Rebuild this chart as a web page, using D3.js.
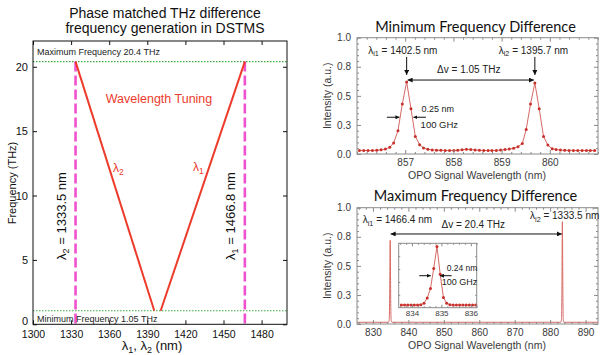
<!DOCTYPE html>
<html><head><meta charset="utf-8">
<script src="https://cdn.jsdelivr.net/npm/d3@7"></script>
<style>body{margin:0;background:#fff}svg{display:block}</style>
</head><body>
<svg id="c" width="609" height="355"></svg>
<script>
// ================= DATA =================
// Left panel: phase-matched THz DFG tuning in DSTMS
const leftXTicks = [1300, 1330, 1360, 1390, 1420, 1450, 1480];
const leftYTicks = [0, 5, 10, 15, 20];
const freqMax = 20.4;
const freqMin = 1.05;
const lambda2Edge = 1333.5;
const lambda1Edge = 1466.8;
const lambda2Line = [[1333.5, 20.4], [1395.5, 1.05]];
const lambda1Line = [[1400.5, 1.05], [1466.8, 20.4]];

// Shared spectrum y ticks
const specYTicks = [0, 0.25, 0.5, 0.75, 1.0];
const specYTickLabels = ["0.0", "0.3", "0.5", "0.8", "1.0"];

// Top-right: minimum frequency difference spectrum
const minXTicks = [857, 858, 859, 860];
const minWl = [856.05,856.14,856.23,856.32,856.41,856.50,856.59,856.68,856.76,856.85,856.94,857.03,
  857.12,857.21,857.30,857.38,857.47,857.56,857.65,857.74,857.83,857.92,858.01,858.09,858.18,858.27,
  858.36,858.45,858.54,858.63,858.72,858.80,858.89,858.98,859.07,859.16,859.25,859.34,859.43,859.51,
  859.60,859.69,859.78,859.87,859.96,860.05,860.13,860.22,860.31,860.40,860.49,860.58,860.67,860.76,
  860.84,860.93];
const minInt = [0.030,0.030,0.030,0.030,0.032,0.036,0.042,0.058,0.095,0.20,0.43,0.62,
  0.39,0.15,0.080,0.052,0.040,0.035,0.033,0.032,0.030,0.030,0.031,0.033,0.036,0.040,
  0.038,0.035,0.032,0.030,0.030,0.030,0.031,0.034,0.038,0.043,0.050,0.063,0.090,0.21,
  0.43,0.61,0.39,0.15,0.077,0.045,0.038,0.034,0.032,0.031,0.030,0.030,0.030,0.030,
  0.030,0.030];

// Bottom-right: maximum frequency difference spectrum
const maxXTicks = [830, 840, 850, 860, 870, 880, 890];
const maxWl = [825.5, 834.4, 834.6, 834.72, 834.87, 835.0, 835.12, 835.35,
               883.0, 883.2, 883.32, 883.45, 883.58, 883.7, 883.9, 893.5];
const maxInt = [0.015, 0.015, 0.04, 0.25, 0.72, 0.25, 0.04, 0.015,
                0.015, 0.04, 0.30, 0.88, 0.30, 0.04, 0.015, 0.015];

// Inset (zoom on the 834.9 nm peak)
const insetXTicks = [834, 835, 836];
const insetWl = [833.64,833.75,833.86,833.97,834.08,834.19,834.30,834.41,834.52,834.63,834.74,834.85,
  834.96,835.07,835.18,835.29,835.40,835.51,835.62,835.73,835.84,835.95,836.06,836.17];
const insetInt = [0.04,0.04,0.04,0.04,0.04,0.04,0.045,0.07,0.15,0.30,0.61,0.95,
  0.52,0.16,0.07,0.045,0.04,0.04,0.04,0.04,0.04,0.04,0.04,0.04];

// ================= DRAWING =================
const svg = d3.select("#c");
const FONT = "'Liberation Sans', Arial, Helvetica, sans-serif";
const TITLE_FONT = "Lato, 'Open Sans', sans-serif";

const defs = svg.append("defs");
function marker(id, color, size) {
  defs.append("marker").attr("id", id).attr("viewBox", "0 0 10 10")
    .attr("refX", 10).attr("refY", 5).attr("markerWidth", size).attr("markerHeight", size)
    .attr("orient", "auto-start-reverse")
    .append("path").attr("d", "M0,0 L10,5 L0,10 z").attr("fill", color);
}
marker("arr", "#111", 5);
marker("arrS", "#111", 4);

function framedAxes(g, x, y, o) {
  const [x0, x1] = x.range(), [y0, y1] = y.range();
  g.append("rect").attr("x", x0).attr("y", y1).attr("width", x1 - x0).attr("height", y0 - y1)
    .attr("fill", o.fill || "none").attr("stroke", o.color).attr("stroke-width", 1);
  const mk = (axisFn, scale, vals, size, fmt, tr, pad, fs) => {
    const a = axisFn(scale).tickValues(vals).tickSize(-size).tickPadding(pad || 0)
      .tickFormat(fmt || (() => ""));
    const ga = g.append("g").attr("transform", tr).call(a);
    ga.select(".domain").remove();
    ga.selectAll("line").attr("stroke", o.color);
    ga.selectAll("text").attr("fill", o.textColor)
      .style("font-family", FONT).style("font-size", (fs || o.fontSize) + "px");
    return ga;
  };
  const out = {};
  out.bottom = mk(d3.axisBottom, x, o.xTicks, o.major, o.xFmt, `translate(0,${y0})`, o.xPad, o.xFontSize);
  mk(d3.axisTop, x, o.xTicks, o.major, null, `translate(0,${y1})`);
  out.left = mk(d3.axisLeft, y, o.yTicks, o.major, o.yFmt, `translate(${x0},0)`, o.yPad);
  mk(d3.axisRight, y, o.yTicks, o.major, null, `translate(${x1},0)`);
  if (o.xMinor) {
    mk(d3.axisBottom, x, o.xMinor, o.minor, null, `translate(0,${y0})`);
    mk(d3.axisTop, x, o.xMinor, o.minor, null, `translate(0,${y1})`);
  }
  if (o.yMinor) {
    mk(d3.axisLeft, y, o.yMinor, o.minor, null, `translate(${x0},0)`);
    mk(d3.axisRight, y, o.yMinor, o.minor, null, `translate(${x1},0)`);
  }
  return out;
}
function minorTicks(scale, step, majors) {
  const [a, b] = scale.domain();
  return d3.range(Math.ceil(a / step) * step, b + 1e-9, step)
    .map(v => +v.toFixed(4))
    .filter(v => v >= a && v <= b && !majors.some(m => Math.abs(m - v) < 1e-6));
}

// ---------- LEFT PANEL ----------
{
  const g = svg.append("g");
  const x = d3.scaleLinear().domain([1300, 1500]).range([33, 287]);
  const y = d3.scaleLinear().domain([0, 22]).range([324.3, 41]);
  const RED = "#ec3b2b", MAG = "#f052cf", GREEN = "#3dab3d";

  g.append("text").attr("x", 165).attr("y", 18).attr("text-anchor", "middle")
    .style("font-family", FONT).style("font-size", "14px").attr("fill", "#111")
    .text("Phase matched THz difference");
  g.append("text").attr("x", 165).attr("y", 33).attr("text-anchor", "middle")
    .style("font-family", FONT).style("font-size", "14px").attr("fill", "#111")
    .text("frequency generation in DSTMS");

  // green dotted limits
  [freqMax, freqMin].forEach(f => {
    g.append("line").attr("x1", x(1300)).attr("x2", x(1500)).attr("y1", y(f)).attr("y2", y(f))
      .attr("stroke", GREEN).attr("stroke-width", 1.1).attr("stroke-dasharray", "1.5,1.5");
  });
  // magenta dashed edges
  [lambda2Edge, lambda1Edge].forEach(l => {
    g.append("line").attr("x1", x(l)).attr("x2", x(l)).attr("y1", y(freqMax)).attr("y2", y(0))
      .attr("stroke", MAG).attr("stroke-width", 2.6).attr("stroke-dasharray", "10,4");
  });
  // tuning lines
  const line = d3.line().x(d => x(d[0])).y(d => y(d[1]));
  [lambda2Line, lambda1Line].forEach(d => {
    g.append("path").attr("d", line(d)).attr("fill", "none").attr("stroke", RED).attr("stroke-width", 2);
  });

  const ax = framedAxes(g, x, y, {
    color: "#111", textColor: "#111", fontSize: 11, xFontSize: 10.5, major: 4,
    xTicks: leftXTicks, yTicks: leftYTicks, xFmt: d3.format("d"), yFmt: d3.format("d"),
    xPad: 6, yPad: 5
  });
  // nudge the "0" label up a little so it does not collide with "1300"
  ax.left.selectAll(".tick").filter(d => d === 0).select("text").attr("dy", "0.05em");

  g.append("text").attr("x", 37).attr("y", 55).style("font-family", FONT).style("font-size", "9px")
    .attr("fill", "#222").text("Maximum Frequency 20.4 THz");
  g.append("text").attr("x", 37).attr("y", 321.5).style("font-family", FONT).style("font-size", "9px")
    .attr("fill", "#222").text("Minimum Frequency 1.05 THz");

  g.append("text").attr("x", 159).attr("y", 102.5).attr("text-anchor", "middle")
    .style("font-family", FONT).style("font-size", "12.5px").attr("fill", RED).text("Wavelength Tuning");

  const lam = (gg, px, py, sub, anchor) => {
    const t = gg.append("text").attr("x", px).attr("y", py).attr("text-anchor", anchor || "start")
      .style("font-family", FONT).style("font-size", "12px").attr("fill", RED);
    t.append("tspan").text("λ");
    t.append("tspan").attr("dy", 3).style("font-size", "8.5px").text(sub);
  };
  lam(g, 113, 172, "2");
  lam(g, 193, 171, "1");

  // rotated edge labels
  const rot = (cx, cy, sub, rest) => {
    const t = g.append("text").attr("transform", `translate(${cx},${cy}) rotate(-90)`)
      .attr("text-anchor", "middle").style("font-family", FONT).style("font-size", "13px").attr("fill", "#111");
    t.append("tspan").text("λ");
    t.append("tspan").attr("dy", 3).style("font-size", "9px").text(sub);
    t.append("tspan").attr("dy", -3).text(rest);
  };
  rot(66, 216, "2", " = 1333.5 nm");
  rot(234.5, 216, "1", " = 1466.8 nm");

  // axis titles
  g.append("text").attr("transform", "translate(16,183) rotate(-90)").attr("text-anchor", "middle")
    .style("font-family", FONT).style("font-size", "11px").attr("fill", "#111").text("Frequency (THz)");
  const xl = g.append("text").attr("x", 152).attr("y", 350).attr("text-anchor", "middle")
    .style("font-family", FONT).style("font-size", "13px").attr("fill", "#111");
  xl.append("tspan").text("λ");
  xl.append("tspan").attr("dy", 3).style("font-size", "9px").text("1");
  xl.append("tspan").attr("dy", -3).text(", λ");
  xl.append("tspan").attr("dy", 3).style("font-size", "9px").text("2");
  xl.append("tspan").attr("dy", -3).text(" (nm)");
}

// ---------- spectrum helpers ----------
const SPEC_LINE = "#d66a66", SPEC_DOT = "#c8302b", AX = "#8a8a8a", TXT = "#3a3a3a";
function specText(g, px, py, parts, size, anchor) {
  const t = g.append("text").attr("x", px).attr("y", py).attr("text-anchor", anchor || "middle")
    .style("font-family", FONT).style("font-size", size + "px").attr("fill", "#222");
  parts.forEach(p => {
    const s = t.append("tspan").text(p.t);
    if (p.sub) s.attr("dy", 2.5).style("font-size", (size * 0.72) + "px");
    if (p.up) s.attr("dy", -2.5);
  });
  return t;
}
function arrow(g, x1, y1, x2, y2, both, mk) {
  const l = g.append("line").attr("x1", x1).attr("y1", y1).attr("x2", x2).attr("y2", y2)
    .attr("stroke", "#111").attr("stroke-width", 1).attr("marker-end", `url(#${mk || "arr"})`);
  if (both) l.attr("marker-start", `url(#${mk || "arr"})`);
}
function specFrame(g, x, y, xTicks, title, titleY) {
  framedAxes(g, x, y, {
    color: AX, textColor: TXT, fontSize: 10, major: 4, minor: 2,
    xTicks: xTicks, yTicks: specYTicks,
    xMinor: minorTicks(x, (xTicks[1] - xTicks[0]) / 5, xTicks),
    yMinor: minorTicks(y, 0.05, specYTicks),
    xFmt: d3.format("d"), yFmt: (d, i) => specYTickLabels[i], xPad: 5, yPad: 6
  });
  const [x0, x1] = x.range(), [y0, y1] = y.range();
  g.append("text").attr("x", (x0 + x1) / 2 - 2).attr("y", titleY).attr("text-anchor", "middle")
    .style("font-family", TITLE_FONT).style("font-size", "14.5px").attr("fill", "#111").text(title);
  g.append("text").attr("transform", `translate(${331},${(y0 + y1) / 2}) rotate(-90)`).attr("text-anchor", "middle")
    .style("font-family", FONT).style("font-size", "10.5px").attr("fill", TXT).text("Intensity (a.u.)");
  g.append("text").attr("x", 477).attr("y", y0 + 24.5).attr("text-anchor", "middle")
    .style("font-family", FONT).style("font-size", "10.5px").attr("fill", TXT).text("OPO Signal Wavelength (nm)");
}

// ---------- TOP-RIGHT ----------
{
  const g = svg.append("g");
  const x = d3.scaleLinear().domain([856, 861]).range([357, 598]);
  const y = d3.scaleLinear().domain([0, 1]).range([154, 37.7]);
  const pts = minWl.map((w, i) => [w, minInt[i]]);
  g.append("path").attr("d", d3.line().x(d => x(d[0])).y(d => y(d[1]))(pts))
    .attr("fill", "none").attr("stroke", SPEC_LINE).attr("stroke-width", 1);
  g.selectAll("circle").data(pts).join("circle").attr("cx", d => x(d[0])).attr("cy", d => y(d[1]))
    .attr("r", 1.5).attr("fill", SPEC_DOT);
  specFrame(g, x, y, minXTicks, "Minimum Frequency Difference", 32);

  const p1 = minWl[minInt.indexOf(d3.max(minInt.slice(0, 25)))];
  const p2 = minWl[25 + minInt.slice(25).indexOf(d3.max(minInt.slice(25)))];
  specText(g, x(856.95), y(0.86), [{t: "λ"}, {t: "i1", sub: 1}, {t: " = 1402.5 nm", up: 1}], 10);
  specText(g, x(859.66), y(0.86), [{t: "λ"}, {t: "i2", sub: 1}, {t: " = 1395.7 nm", up: 1}], 10);
  arrow(g, x(p1), y(0.835), x(p1), y(0.68));
  arrow(g, x(p2), y(0.835), x(p2), y(0.68));
  specText(g, x(858.32), y(0.70), [{t: "Δv = 1.05 THz"}], 10);
  arrow(g, x(p1) + 1, y(0.636), x(p2) - 1, y(0.636), true);
  // FWHM marks
  arrow(g, x(856.62), y(0.316), x(856.88), y(0.316), false, "arrS");
  arrow(g, x(857.43), y(0.316), x(857.17), y(0.316), false, "arrS");
  specText(g, x(857.34), y(0.364), [{t: "0.25 nm"}], 9, "start");
  specText(g, x(857.32), y(0.225), [{t: "100 GHz"}], 9.5, "start");
}

// ---------- BOTTOM-RIGHT ----------
{
  const g = svg.append("g");
  const x = d3.scaleLinear().domain([825.5, 893.5]).range([357, 598]);
  const y = d3.scaleLinear().domain([0, 1]).range([324, 207.7]);
  const pts = maxWl.map((w, i) => [w, maxInt[i]]);
  g.append("path").attr("d", d3.line().curve(d3.curveMonotoneX).x(d => x(d[0])).y(d => y(d[1]))(pts))
    .attr("fill", "none").attr("stroke", SPEC_LINE).attr("stroke-width", 1);
  specFrame(g, x, y, maxXTicks, "Maximum Frequency Difference", 201);

  specText(g, x(836.9), y(0.866), [{t: "λ"}, {t: "i1", sub: 1}, {t: " = 1466.4 nm", up: 1}], 10);
  specText(g, x(884.1), y(0.90), [{t: "λ"}, {t: "i2", sub: 1}, {t: " = 1333.5 nm", up: 1}], 10);
  specText(g, x(858.3), y(0.823), [{t: "Δv = 20.4 THz"}], 10);
  arrow(g, x(835.0), y(0.774), x(883.3), y(0.774), true);

  // inset
  const ix = d3.scaleLinear().domain([833.55, 836.2]).range([398.7, 476.7]);
  const iy = d3.scaleLinear().domain([0, 1]).range([307.7, 243.3]);
  g.append("rect").attr("x", 398.7).attr("y", 243.3).attr("width", 78).attr("height", 64.4).attr("fill", "#fff");
  const ipts = insetWl.map((w, i) => [w, insetInt[i]]);
  g.append("path").attr("d", d3.line().x(d => ix(d[0])).y(d => iy(d[1]))(ipts))
    .attr("fill", "none").attr("stroke", SPEC_LINE).attr("stroke-width", 1);
  g.selectAll("circle.ins").data(ipts).join("circle").attr("class", "ins")
    .attr("cx", d => ix(d[0])).attr("cy", d => iy(d[1])).attr("r", 1.5).attr("fill", SPEC_DOT);
  framedAxes(g, ix, iy, {
    color: AX, textColor: TXT, fontSize: 8, major: 3, minor: 1.5,
    xTicks: insetXTicks, yTicks: [], xMinor: minorTicks(ix, 0.2, insetXTicks),
    yMinor: [0.2, 0.4, 0.6, 0.8], xFmt: d3.format("d"), yFmt: () => "", xPad: 3
  });
  arrow(g, ix(834.25), iy(0.497), ix(834.64), iy(0.497), false, "arrS");
  arrow(g, ix(835.35), iy(0.497), ix(834.95), iy(0.497), false, "arrS");
  specText(g, ix(835.18), iy(0.575), [{t: "0.24 nm"}], 8.5, "start");
  specText(g, ix(835.01), iy(0.35), [{t: "100 GHz"}], 9, "start");
}
</script>
</body></html>
